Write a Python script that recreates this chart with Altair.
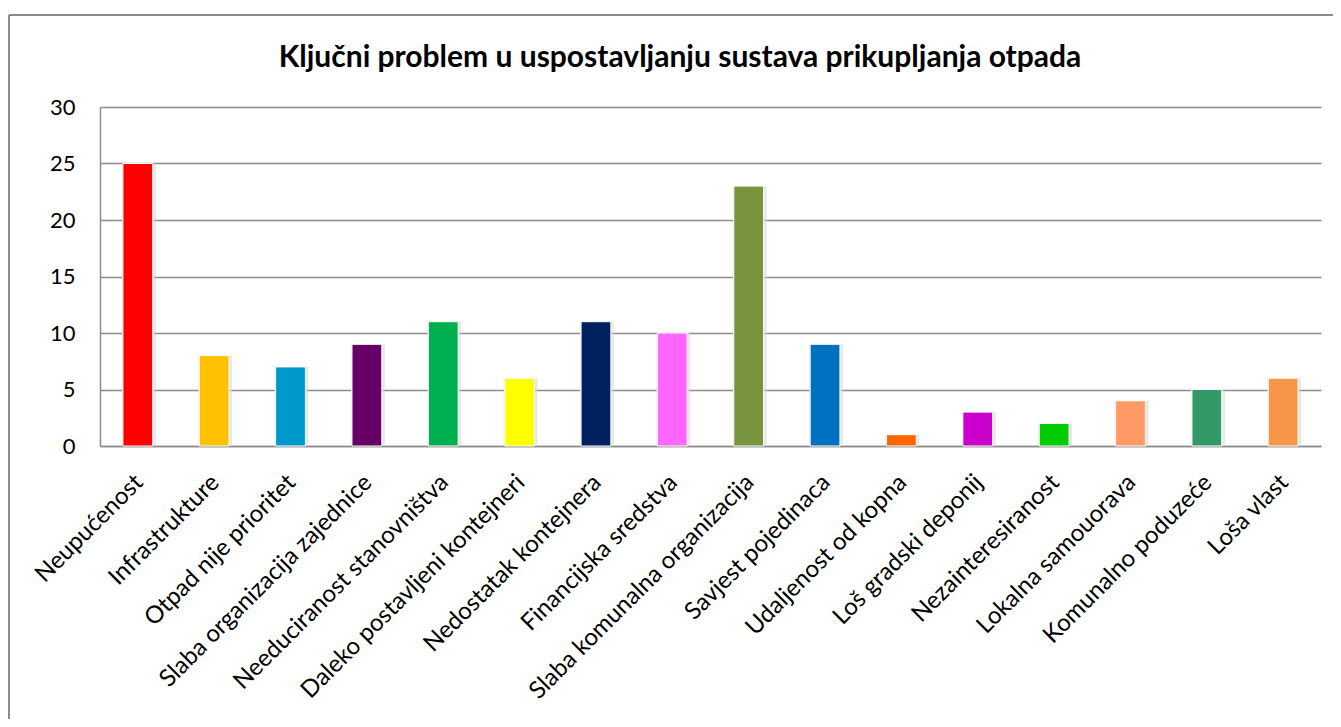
import altair as alt
import pandas as pd

categories = [
    "Neupućenost", "Infrastrukture", "Otpad nije prioritet", "Slaba organizacija zajednice",
    "Needuciranost stanovništva", "Daleko postavljeni kontejneri", "Nedostatak kontejnera",
    "Financijska sredstva", "Slaba komunalna organizacija", "Savjest pojedinaca",
    "Udaljenost od kopna", "Loš gradski deponij", "Nezainteresiranost", "Lokalna samouorava",
    "Komunalno poduzeće", "Loša vlast",
]
values = [25, 8, 7, 9, 11, 6, 11, 10, 23, 9, 1, 3, 2, 4, 5, 6]
colors = [
    "#FF0000", "#FFC000", "#0099CC", "#660066", "#00B050", "#FFFF00", "#002060", "#FF66FF",
    "#77933C", "#0070C0", "#FF6600", "#CC00CC", "#00CC00", "#FF9966", "#339966", "#F79646",
]
title_text = "Ključni problem u uspostavljanju sustava prikupljanja otpada"

df = pd.DataFrame({"kategorija": categories, "broj": values, "boja": colors})

FONT = "Lato"
W, H = 1221, 339

x_enc = alt.X(
    "kategorija:N", sort=categories,
    scale=alt.Scale(paddingInner=0.61, paddingOuter=0.3),
    axis=alt.Axis(title=None, labelAngle=-45, labelFontSize=24, labelFont=FONT,
                  labelColor="#000000", ticks=False, labelPadding=24, labelOffset=-7,
                  domainColor="#8c8c8c", domainWidth=1.5, labelLimit=400, labelOverlap=False),
)
y_enc = alt.Y(
    "broj:Q", scale=alt.Scale(domain=[0, 30]),
    axis=alt.Axis(title=None, values=[0, 5, 10, 15, 20, 25, 30], labelFontSize=22,
                  labelFont=FONT, labelColor="#000000", ticks=False, labelPadding=25,
                  gridColor="#8c8c8c", gridWidth=1.5, domainColor="#8c8c8c", domainWidth=1.5),
)

shadow = alt.Chart(df).mark_bar(color="#d9d9d9", opacity=0.6, xOffset=1, size=34).encode(
    x=x_enc, y=y_enc,
)
bars = alt.Chart(df).mark_bar(stroke="#ffffff", strokeWidth=1).encode(
    x=x_enc, y=y_enc,
    color=alt.Color("boja:N", scale=None, legend=None),
)

frame_df = pd.DataFrame({"naslov": [title_text]})
frame_top = alt.Chart(frame_df).mark_rule(color="#8c8c8c", strokeWidth=2).encode(
    x=alt.value(-91), x2=alt.value(1241), y=alt.value(-92)
)
frame_left = alt.Chart(frame_df).mark_rule(color="#8c8c8c", strokeWidth=2).encode(
    x=alt.value(-91), y=alt.value(-92), y2=alt.value(620)
)
title = alt.Chart(frame_df).mark_text(
    font=FONT, fontSize=30, fontWeight="bold", color="#000000",
    align="center", baseline="middle",
).encode(x=alt.value(580), y=alt.value(-49), text="naslov:N")

chart = alt.layer(shadow, bars, frame_top, frame_left, title).properties(
    width=W, height=H,
    autosize=alt.AutoSizeParams(type="none"),
    padding={"left": 92, "top": 99, "right": 12, "bottom": 273},
).configure_view(stroke=None)

chart.save("out.html", embed_options={"renderer": "svg", "actions": False})
